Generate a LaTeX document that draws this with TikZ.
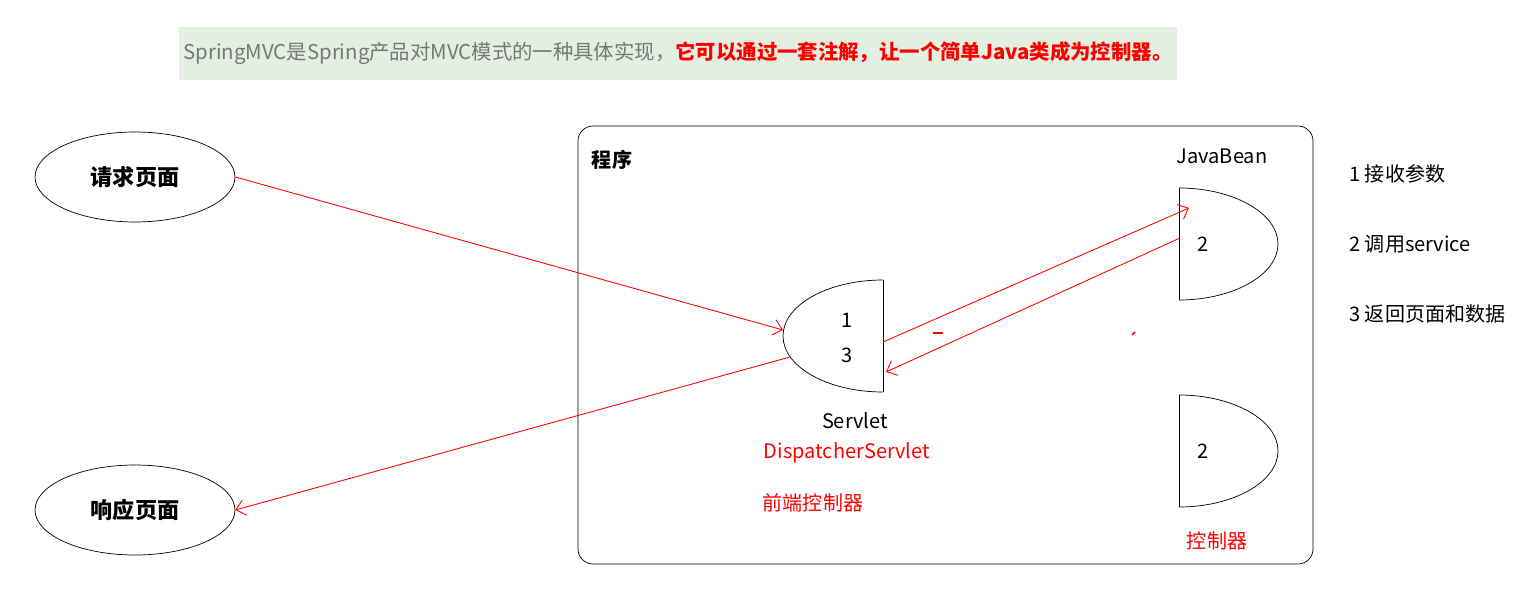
\documentclass[tikz,border=0pt]{standalone}
\usepackage{fontspec}
\setmainfont{Noto Sans CJK SC}
\usetikzlibrary{positioning}
\usetikzlibrary{arrows.meta,shapes}

\definecolor{bannergreen}{RGB}{226,239,225}
\definecolor{bannergray}{RGB}{118,118,118}

\tikzset{
  page/.style={draw, ellipse, minimum width=4cm, minimum height=1.8cm, inner sep=0pt, font=\fontsize{12.6}{15}\selectfont\bfseries},
  flow/.style={red, line width=0.5pt, -{Straight Barb[length=5pt,width=9pt]}},
  lbl/.style={inner sep=0pt},
}

\begin{document}
\begin{tikzpicture}[x=0.02cm, y=-0.02cm, font=\fontsize{11.4}{14}\selectfont]
 \useasboundingbox (0,0) rectangle (1530,604);

 %banner
 \fill[bannergreen] (179,27) rectangle (1177,80);
 \node[lbl, font=\fontsize{11.6}{14}\selectfont] (banner) at (678,53) {\textcolor{bannergray}{SpringMVC是Spring产品对MVC模式的一种具体实现，}\textcolor{red}{\bfseries 它可以通过一套注解，让一个简单Java类成为控制器。}};

 %pages
 \node[page] (req) at (135,177) {请求页面};
 \node[page] (resp) at (135,510) {响应页面};

 %program box
 \draw[rounded corners=15*0.02cm] (578,126) rectangle (1313,564);
 \node[lbl, font=\fontsize{11.4}{14}\selectfont\bfseries] (prog) at (612,160) {程序};

 %servlet
 \draw (883,280) -- (883,392);
 \draw (883,280) .. controls (827.8,280) and (783,305.1) .. (783,336)
                 .. controls (783,366.9) and (827.8,392) .. (883,392);
 \node[lbl] (n1) at (847,320) {1};
 \node[lbl] (n3) at (847,355) {3};
 \node[lbl] (servlet) at (855,421) {Servlet};
 \node[lbl, red] (dispatch) at (847,453) {DispatcherServlet};
 \node[lbl, red] (front) at (813,503) {前端控制器};

 %javabean and controller
 \foreach \y/\name in {244/jb, 451/ctl} {
   \draw (1179,\y-56) -- (1179,\y+56);
   \draw (1179,\y-56) .. controls (1233.1,\y-56) and (1278,\y-30.9) .. (1278,\y)
                      .. controls (1278,\y+30.9) and (1233.1,\y+56) .. (1179,\y+56);
   \node[lbl] (\name2) at (1203,\y) {2};
 }
 \node[lbl] (javabean) at (1222,156) {JavaBean};
 \node[lbl, red] (ctlname) at (1217,541) {控制器};

 %steps
 \node[lbl, anchor=west] (s1) at (1349,174) {1 接收参数};
 \node[lbl, anchor=west] (s2) at (1349,244) {2 调用service};
 \node[lbl, anchor=west] (s3) at (1349,314) {3 返回页面和数据};

 %arrows
 \coordinate (srv-in) at (783,330);
 \coordinate (srv-out) at (790,357);
 \coordinate (srv-r1) at (883,342);
 \coordinate (srv-r2) at (886,372);
 \coordinate (jb-in) at (1189,208);
 \coordinate (jb-out) at (1180,238);
 \draw[flow] (req.east) -- (srv-in);
 \draw[flow] (srv-out) -- (resp.east);
 \draw[flow] (srv-r1) -- (jb-in);
 \draw[flow] (jb-out) -- (srv-r2);

 %stray marks
 \draw[red, line width=0.9pt] (933,333) -- (943,333);
 \draw[red, line width=0.9pt] (1132,335) -- (1135,332);
\end{tikzpicture}
\end{document}
